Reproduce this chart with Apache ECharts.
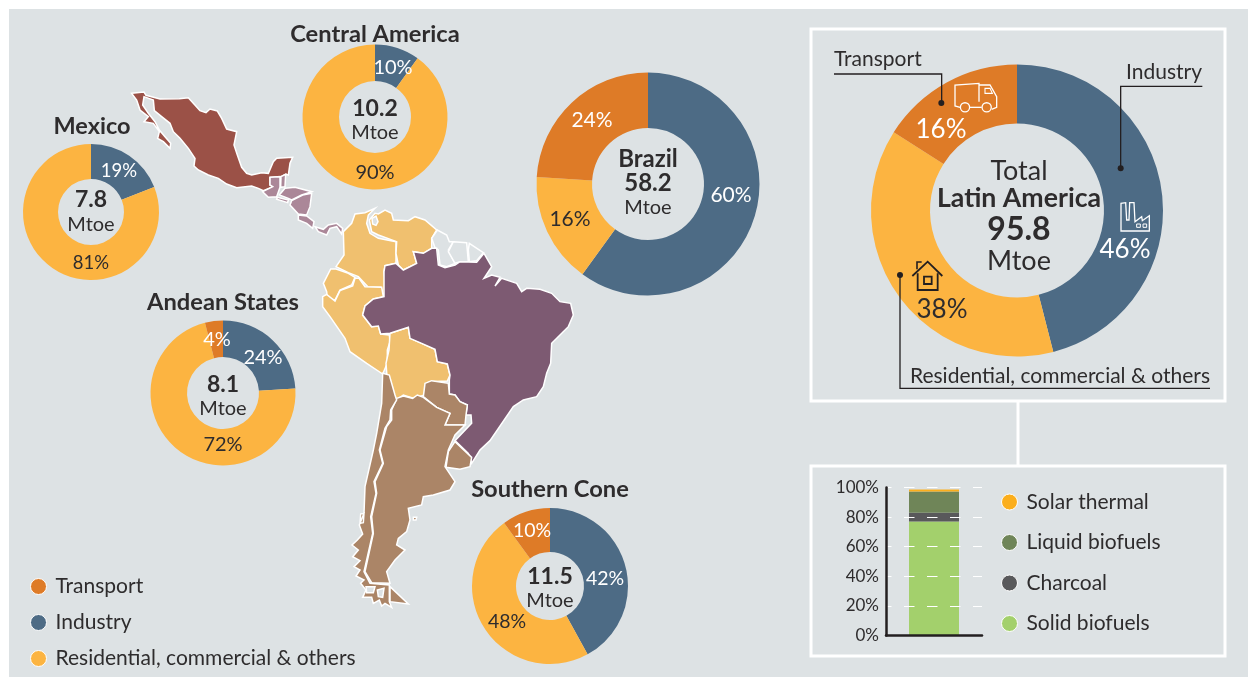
<!DOCTYPE html>
<html><head><meta charset="utf-8">
<style>html,body{margin:0;padding:0;background:#fff}#c{width:1248px;height:677px}</style>
<script src="https://cdn.jsdelivr.net/npm/echarts@6/dist/echarts.min.js"></script>
</head><body><div id="c"></div>
<script>
const FONT = 'Lato';
const INK = '#2e2c2d';
const sectors = ['Industry', 'Residential, commercial & others', 'Transport'];
const sectorLegendOrder = ['Transport', 'Industry', 'Residential, commercial & others'];
const sectorColors = ['#4d6b85', '#fcb441', '#de7b27'];
const sectorLabelColors = ['#fff', INK, '#fff'];
const mexico = [19, 81];
const centralAmerica = [10, 90];
const brazil = [60, 16, 24];
const andeanStates = [24, 72, 4];
const southernCone = [42, 48, 10];
const latinAmerica = [46, 38, 16];
const biofuelNames = ['Solid biofuels', 'Charcoal', 'Liquid biofuels', 'Solar thermal'];
const biofuelColors = ['#a3d06c', '#59595b', '#6f8558', '#fbae1c'];
const biofuelShares = [77, 6, 14.3, 1.4];

// crop-space helpers for tracing the map outlines
const z = (ox, oy) => pts => pts.map(p => [ox + p[0] / 3, -(oy + p[1] / 3)]);
const a = z(120, 80), b = z(310, 200), s = z(340, 370);
const Mex = a([[35,40],[72,36],[78,46],[120,57],[178,56],[205,53],[222,72],[240,92],[258,98],[270,87],[292,93],[305,115],[320,147],[350,155],[342,195],[352,225],[365,262],[380,280],[395,285],[425,278],[445,280],[460,245],[470,235],[518,232],[510,250],[505,285],[497,283],[483,290],[450,292],[450,315],[460,320],[430,332],[415,325],[395,318],[350,323],[320,312],[295,295],[265,285],[235,270],[222,258],[225,235],[205,205],[180,175],[160,155],[150,130],[125,110],[103,92],[100,60],[72,50],[68,75],[85,100],[105,125],[118,150],[135,170],[152,190],[150,205],[130,185],[113,175],[118,155],[100,130],[72,125],[85,110],[60,90],[50,60]]);
const CA = [
 [[483,290],[497,283],[495,320],[482,322]],
 [[450,292],[480,290],[480,322],[470,350],[445,352],[428,335],[458,320],[450,315]],
 [[472,352],[505,360],[503,368],[470,358]],
 [[495,325],[525,322],[575,335],[545,345],[515,360],[505,355],[478,345]],
 [[515,362],[548,345],[575,340],[570,380],[560,405],[535,402],[510,375]],
 [[535,405],[560,408],[582,425],[578,445],[560,430],[535,420]],
 [[585,440],[610,448],[625,435],[650,430],[668,445],[665,462],[650,440],[630,445],[620,465],[595,455]]
].map(a);
const Col = b([[195,25],[175,45],[170,70],[180,100],[205,115],[258,125],[258,190],[225,197],[222,215],[228,260],[222,290],[212,262],[175,262],[145,230],[115,218],[78,200],[102,165],[100,95],[125,70],[135,42],[165,38]]);
const Ven = b([[178,60],[195,40],[205,42],[225,30],[245,40],[250,60],[295,62],[315,50],[345,60],[380,90],[365,115],[365,145],[340,160],[310,155],[320,190],[280,210],[265,195],[258,160],[260,125],[205,105],[185,95]]);
const Lake = b([[186,55],[198,48],[204,65],[198,76],[188,72]]);
const Ecu = b([[62,207],[78,207],[115,220],[135,232],[125,255],[90,270],[75,300],[52,295],[50,275],[40,250]]);
const Per = b([[135,235],[147,235],[165,260],[215,262],[220,290],[190,297],[165,318],[158,345],[185,380],[205,378],[212,402],[238,405],[240,425],[232,450],[232,490],[218,522],[170,490],[120,455],[105,415],[60,350],[38,320],[38,290],[50,283],[75,303],[90,272],[128,258]]);
const Bol = b([[240,400],[295,382],[300,415],[335,430],[375,448],[382,485],[412,492],[420,525],[412,543],[358,545],[345,585],[310,595],[280,585],[258,600],[232,545],[228,490],[237,450]]);
const Guy = b([[365,115],[382,90],[410,105],[418,125],[430,125],[415,150],[435,190],[410,200],[390,195],[385,150],[375,143]]);
const Sur = b([[430,125],[470,128],[475,185],[450,185],[435,190],[415,155]]);
const Gui = b([[478,130],[520,158],[500,182],[478,185],[475,150]]);
const Bra = b([[380,145],[385,195],[405,203],[435,195],[450,185],[500,187],[522,160],[545,200],[522,235],[545,225],[570,232],[555,258],[575,235],[620,250],[635,275],[650,265],[690,268],[725,280],[750,305],[782,310],[790,345],[775,380],[750,405],[725,430],[722,490],[710,520],[700,560],[680,590],[640,600],[610,620]])
 .concat(s([[450,212],[420,240],[395,280],[385,250],[345,212],[395,160],[393,135],[378,135],[382,105],[360,95],[345,75],[328,72],[328,30]]))
 .concat(b([[420,525],[412,492],[382,485],[375,448],[335,430],[300,415],[295,382],[240,400],[212,402],[205,378],[185,380],[158,345],[165,318],[190,297],[222,290],[222,215],[225,197],[258,190],[280,210],[320,190],[310,155],[340,160],[365,145]]));
const Par = s([[255,40],[275,32],[325,40],[328,72],[345,75],[360,95],[382,105],[378,135],[375,165],[315,165],[330,130],[290,112],[250,80]]);
const Uru = s([[345,215],[395,262],[390,290],[360,298],[318,292],[325,245]]);
const Arg = s([[170,85],[190,78],[218,85],[232,75],[250,82],[290,112],[330,130],[315,165],[375,165],[345,195],[325,240],[315,290],[345,335],[330,360],[280,375],[250,380],[245,405],[205,415],[210,450],[200,485],[175,505],[170,525],[195,540],[165,570],[140,605],[150,640],[95,638],[75,605],[100,490],[95,440],[110,370],[105,335],[130,280],[120,240],[140,170],[155,150],[155,120]]);
const TdF = s([[150,650],[205,702],[150,695]]);
const Chi = s([[128,10],[148,15],[165,75],[170,90],[152,120],[150,150],[135,175],[118,240],[128,280],[102,335],[108,370],[92,440],[98,490],[72,605],[90,640],[148,645],[148,695],[155,712],[135,700],[125,708],[118,690],[100,700],[95,682],[68,682],[78,660],[62,640],[72,630],[48,618],[60,600],[42,590],[60,572],[38,560],[55,540],[36,525],[52,510],[68,492],[58,465],[72,430],[75,350],[100,240],[110,190],[125,100]]);
const Fjord = s([[78,650],[105,650],[100,668],[80,668]]);
const Fjord2 = s([[112,660],[132,655],[128,682],[115,680]]);
const Chiloe = s([[62,432],[72,430],[70,458],[60,460]]);
const Falk = s([[220,442],[230,442],[228,450],[220,450]]);

const regionShapes = {
  Mexico: [Mex], 'Central America': CA, Colombia: [Col], Venezuela: [Ven], Ecuador: [Ecu], Peru: [Per], Bolivia: [Bol],
  Guyana: [Guy], Suriname: [Sur], 'French Guiana': [Gui], Brazil: [Bra], Paraguay: [Par], Uruguay: [Uru],
  Argentina: [Arg, TdF, Falk], Chile: [Chi, Chiloe], Waters: [Lake, Fjord, Fjord2]
};
const regionColors = {
  Mexico: '#9b5147', 'Central America': '#ab8798', Colombia: '#f0c06f', Venezuela: '#f0c06f', Ecuador: '#f0c06f', Peru: '#f0c06f', Bolivia: '#f0c06f',
  Guyana: '#dde2e4', Suriname: '#dde2e4', 'French Guiana': '#dde2e4', Brazil: '#7d5a72', Paraguay: '#ab8567', Uruguay: '#ab8567', Argentina: '#ab8567', Chile: '#ab8567', Waters: '#dde2e4'
};
echarts.registerMap('latam', { type: 'FeatureCollection', features: Object.keys(regionShapes).map(n => ({
  type: 'Feature', properties: { name: n },
  geometry: { type: 'MultiPolygon', coordinates: regionShapes[n].map(r => [r]) }
})) });

function donut(center, radius, values, labelAt, labelSize) {
  return { type: 'pie', center, radius, startAngle: 90, silent: true, animation: false, z: 3,
    avoidLabelOverlap: false, labelLine: { show: false },
    label: { show: true, position: 'inside', formatter: '{c}%', fontFamily: FONT, fontSize: labelSize },
    labelLayout: p => ({ x: labelAt[p.dataIndex][0], y: labelAt[p.dataIndex][1], align: 'center', verticalAlign: 'middle' }),
    data: values.map((v, i) => ({ name: sectors[i], value: v, itemStyle: { color: sectorColors[i] },
      label: { color: sectorLabelColors[i] } })) };
}

const T = (text, x, y, size, bold, align, fill) => ({ type: 'text', x, y, z: 20, silent: true,
  style: { text, fontFamily: FONT, fontSize: size, fontWeight: bold ? 'bold' : 'normal', fill: fill || INK,
    align: align || 'center', verticalAlign: 'middle' } });
const p4 = (x, y) => [805 + x / 3, 20 + y / 3];
const PL = (pts, stroke, w) => ({ type: 'polyline', z: 15, silent: true, shape: { points: pts.map(q => p4(q[0], q[1])) }, style: { stroke, lineWidth: w, fill: null } });
const PG = (pts, stroke, w) => ({ type: 'polygon', z: 15, silent: true, shape: { points: pts.map(q => p4(q[0], q[1])) }, style: { stroke, lineWidth: w, fill: null } });
const DOT = (x, y) => ({ type: 'circle', z: 16, silent: true, shape: { cx: 805 + x / 3, cy: 20 + y / 3, r: 3 }, style: { fill: '#231f20' } });
const CIR = (x, y, r, stroke, w) => ({ type: 'circle', z: 15, silent: true, shape: { cx: 805 + x / 3, cy: 20 + y / 3, r }, style: { stroke, lineWidth: w, fill: null } });
const BOX = (x, y, w, h, lw) => ({ type: 'rect', z: 1, silent: true, shape: { x, y, width: w, height: h }, style: { stroke: '#fff', lineWidth: lw, fill: null } });

const graphics = [
  { type: 'rect', z: -10, silent: true, shape: { x: 9, y: 9, width: 1239, height: 668 }, style: { fill: '#dde2e4' } },
  BOX(811, 29, 414, 372, 3), BOX(811, 466, 414, 190, 3),
  { type: 'line', z: 1, silent: true, shape: { x1: 1018, y1: 402, x2: 1018, y2: 465 }, style: { stroke: '#fff', lineWidth: 3 } },
  T('Central America', 375, 34, 23.7, true), T('Mexico', 92, 126, 23.5, true), T('Andean States', 223, 302, 23.7, true), T('Southern Cone', 550, 489, 23.7, true),
  T('7.8', 91, 200, 23, true), T('Mtoe', 91, 225, 20),
  T('10.2', 375, 109, 23, true), T('Mtoe', 375, 133, 20),
  T('Brazil', 648, 159, 24, true), T('58.2', 648, 183, 24, true), T('Mtoe', 648, 208, 20),
  T('8.1', 223, 385, 23, true), T('Mtoe', 223, 409, 20),
  T('11.5', 550, 577, 23, true), T('Mtoe', 550, 601, 20),
  T('Total', 1019, 171, 27), T('Latin America', 1019, 198, 26.7, true), T('95.8', 1019, 230, 32, true), T('Mtoe', 1019, 261, 27),
  T('Transport', 834, 59, 21, false, 'left'), T('Industry', 1202, 72, 21, false, 'right'), T('Residential, commercial & others', 1210, 376, 21, false, 'right'),
  PL([[87,162],[410,162],[410,249]], '#231f20', 1.3), DOT(409, 249),
  PL([[1192,199],[947,199],[947,445]], '#231f20', 1.3), DOT(947, 445),
  PL([[285,765],[285,1105],[1215,1105]], '#231f20', 1.3), DOT(285, 765),
  // truck
  PL([[465,262],[450,258],[450,195],[522,190],[522,245]], '#fff', 1.3),
  PL([[495,262],[530,262]], '#fff', 1.3),
  PL([[522,195],[555,195],[575,230],[575,262],[560,268]], '#fff', 1.3),
  PG([[540,205],[555,205],[562,220],[540,220]], '#fff', 1.1),
  CIR(480, 262, 4.6, '#fff', 1.3), CIR(545, 262, 4.6, '#fff', 1.3),
  // factory
  PG([[948,633],[948,550],[962,548],[965,600],[972,600],[974,548],[987,548],[990,605],[1010,590],[1012,602],[1033,587],[1033,633]], '#fff', 1.3),
  PG([[995,612],[1006,612],[1006,622],[995,622]], '#fff', 1), PG([[1014,612],[1025,612],[1025,622],[1014,622]], '#fff', 1),
  // house
  PL([[322,768],[368,725],[412,768]], '#231f20', 1.8),
  PL([[338,760],[338,810],[398,810],[398,760]], '#231f20', 1.8),
  PL([[336,748],[336,726],[350,726]], '#231f20', 1.6),
  PG([[357,770],[380,770],[380,792],[357,792]], '#231f20', 1.8)
];

const biofuelSeries = biofuelNames.map((n, i) => ({ type: 'bar', name: n, stack: 'mix', barWidth: 50, silent: true, animation: false, z: 2,
  itemStyle: { color: biofuelColors[i] }, data: [biofuelShares[i]] }));

const legendBase = { orient: 'vertical', itemWidth: 16, itemHeight: 16, icon: 'circle', selectedMode: false, height: 200,
  itemStyle: { borderColor: '#fff', borderWidth: 1 },
  textStyle: { fontFamily: FONT, fontSize: 21, lineHeight: 20, color: INK, padding: [0, 0, 0, 4] } };

const chart = echarts.init(document.getElementById('c'), null, { renderer: 'canvas' });
chart.setOption({
  animation: false,
  backgroundColor: '#fff',
  textStyle: { fontFamily: FONT },
  geo: { map: 'latam', silent: true, roam: false, aspectScale: 1, z: 1,
    boundingCoords: [[100, -50], [600, -650]], left: 100, top: 50, width: 500, height: 600,
    itemStyle: { borderColor: '#fff', borderWidth: 1.5, areaColor: '#dde2e4' },
    regions: Object.keys(regionColors).map(n => ({ name: n, itemStyle: { areaColor: regionColors[n], borderColor: '#fff', borderWidth: 1.5 } })) },
  grid: { left: 886, top: 487.5, width: 96, height: 148, containLabel: false },
  xAxis: { type: 'category', data: ['Latin America'], axisLabel: { show: false }, axisTick: { show: false },
    axisLine: { lineStyle: { color: '#231f20', width: 2.5 } }, z: 6 },
  yAxis: { type: 'value', min: 0, max: 100, interval: 20, z: 6,
    axisLine: { show: true, lineStyle: { color: '#231f20', width: 2.5 } }, axisTick: { show: false },
    axisLabel: { formatter: v => v + '%', color: INK, fontFamily: FONT, fontSize: 17, margin: 7 },
    splitLine: { lineStyle: { color: '#fff', type: [10.5, 12.5], dashOffset: 5, width: 1 } } },
  legend: [
    Object.assign({}, legendBase, { data: sectorLegendOrder, left: 25, top: 571, itemGap: 15 }),
    Object.assign({}, legendBase, { data: biofuelNames.slice().reverse(), left: 996, top: 486.5, itemGap: 19.5 })
  ],
  graphic: { elements: graphics },
  series: [
    donut([91, 212], [33, 68], mexico, [[119,171],[91,263]], 18.5),
    donut([375, 117], [36, 72.5], centralAmerica, [[393,68],[375,173]], 20),
    donut([648, 184], [56, 111.5], brazil, [[731,195],[570,219],[592,120]], 21),
    donut([223, 393], [36, 72.5], andeanStates, [[263,358],[223,445],[217,340]], 20),
    donut([550, 586], [34, 78], southernCone, [[605,579],[507,622],[532,531]], 19.5),
    donut([1017, 210.5], [87, 146], latinAmerica, [[1125,250],[942,310],[941,130]], 26),
    ...biofuelSeries
  ]
});
</script></body></html>
